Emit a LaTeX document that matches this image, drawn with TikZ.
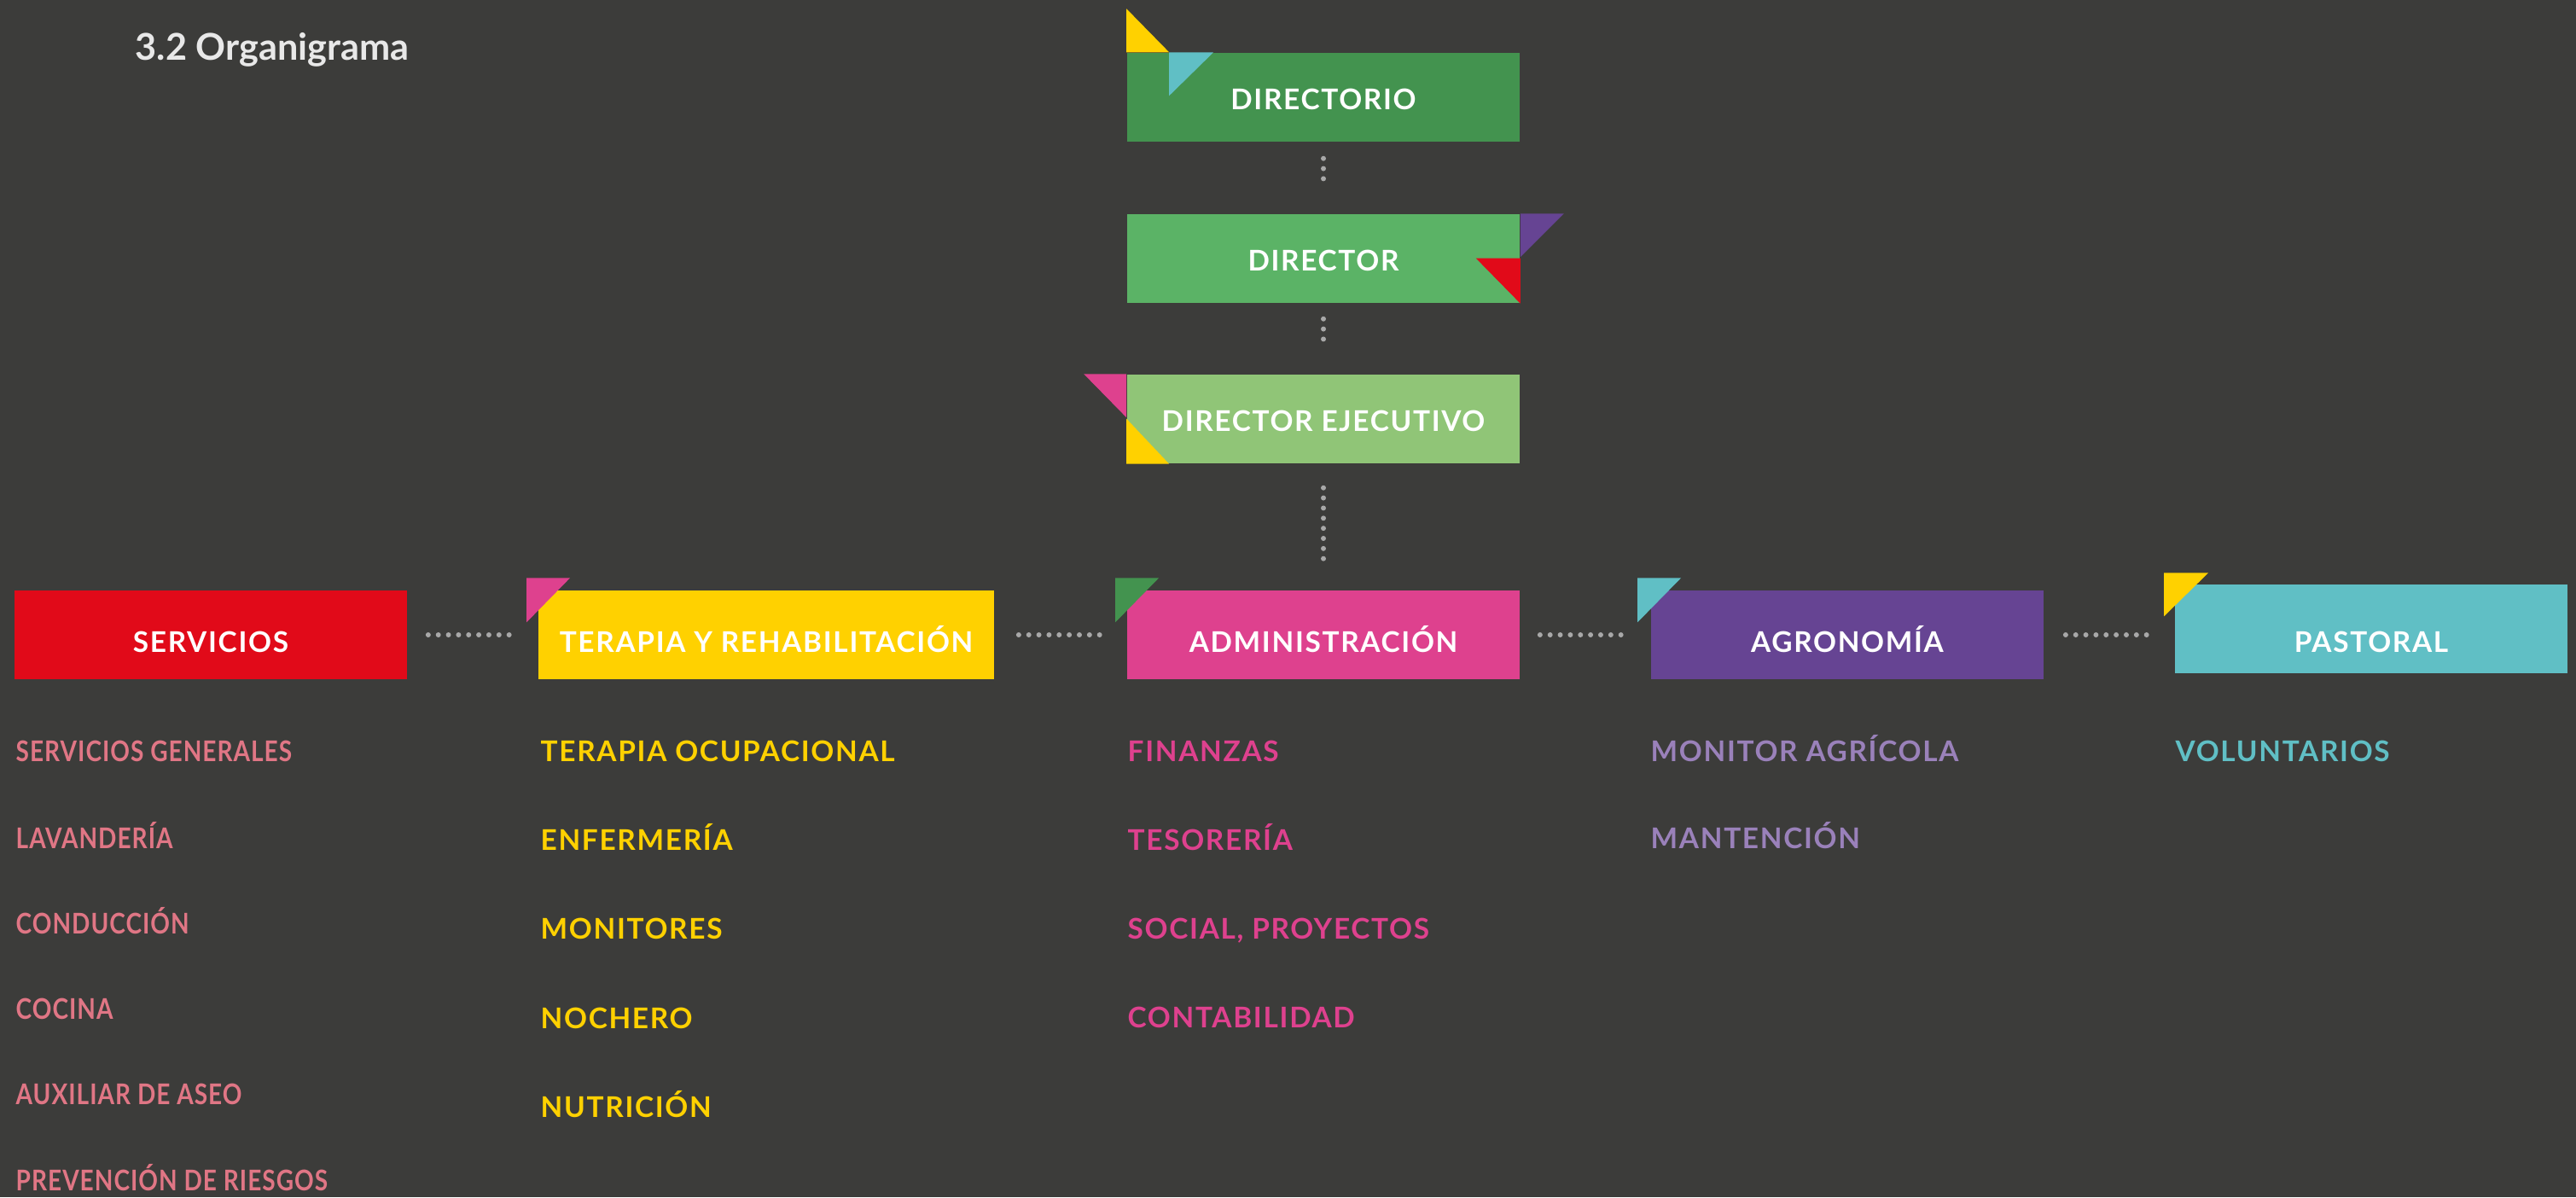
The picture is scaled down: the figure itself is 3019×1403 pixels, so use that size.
\documentclass[tikz,border=0pt]{standalone}
\usepackage{fontspec}
\setmainfont{Lato}
\newfontfamily\labelfont[LetterSpace=5]{Lato}
\newfontfamily\narrowfont[LetterSpace=3, FakeStretch=0.84, BoldFeatures={FakeStretch=0.84}]{Lato}
\usepackage{tikz}

\definecolor{bg}{HTML}{3C3C3A}
\definecolor{darkgreen}{HTML}{43934F}
\definecolor{midgreen}{HTML}{5BB366}
\definecolor{lightgreen}{HTML}{90C577}
\definecolor{orgred}{HTML}{E10A19}
\definecolor{orgyellow}{HTML}{FFD100}
\definecolor{orgpink}{HTML}{DE418E}
\definecolor{orgpurple}{HTML}{664493}
\definecolor{orgcyan}{HTML}{60BFC5}
\definecolor{salmon}{HTML}{E07685}
\definecolor{lilac}{HTML}{9A81BA}
\definecolor{dotgray}{HTML}{A8A8A8}

\tikzset{
    unit/.style={fill=#1, text=white, minimum width=4.6cm, minimum height=1.04cm,
        inner sep=0pt, text height=11.9pt, text depth=0pt,
        font=\labelfont\bfseries\fontsize{9.5}{11}\selectfont},
    topunit/.style={unit=#1, text height=8.5pt},
    subitem/.style={text=#1, anchor=base west, inner sep=0pt,
        font=\labelfont\bfseries\fontsize{9.5}{11}\selectfont},
    srvitem/.style={subitem=salmon, font=\narrowfont\bfseries\fontsize{9.5}{11}\selectfont},
    dots/.style={dotgray, line width=1.7pt, line cap=round, dash pattern=on 0pt off 3.37pt}
}

\begin{document}
\begin{tikzpicture}[x=0.01cm, y=-0.01cm]
    \useasboundingbox[fill=bg] (0, 0) rectangle (3019, 1403);

    \node[text=white!91!black, anchor=base west, inner sep=0pt,
        font=\bfseries\fontsize{12.3}{14}\selectfont] (title) at (158, 70) {3.2 Organigrama};

    % Top of the chart
    \node[topunit=darkgreen] (dirio) at (1551, 114) {DIRECTORIO};
    \node[topunit=midgreen] (dir) at (1551, 303) {DIRECTOR};
    \node[topunit=lightgreen] (eje) at (1551, 491) {DIRECTOR EJECUTIVO};

    % Areas
    \node[unit=orgred] (srv) at (247, 744) {SERVICIOS};
    \node[unit=orgyellow, minimum width=5.34cm] (ter) at (898, 744) {TERAPIA Y REHABILITACIÓN};
    \node[unit=orgpink] (adm) at (1551, 744) {ADMINISTRACIÓN};
    \node[unit=orgpurple] (agr) at (2165, 744) {AGRONOMÍA};
    \node[unit=orgcyan, text height=15.9pt] (pas) at (2779, 737) {PASTORAL};

    % Corner flags
    \fill[orgyellow] (dirio.north west) -- ++(50, 0) -- ++(-50, -51) -- cycle;
    \fill[orgcyan] (dirio.north west) ++(50, 0) -- ++(52, 0) -- ++(-52, 51) -- cycle;
    \fill[orgpurple] (dir.north east) -- ++(51, 0) -- ++(-51, 51) -- cycle;
    \fill[orgred] (dir.south east) -- ++(0, -53) -- ++(-52, 0) -- cycle;
    \fill[orgpink] (eje.north west) -- ++(-50, 0) -- ++(50, 51) -- cycle;
    \fill[orgyellow] (eje.south west) -- ++(0, -53) -- ++(50, 53) -- cycle;
    \fill[orgpink] (ter.north west) ++(-13, -14) -- ++(51, 0) -- ++(-51, 52) -- cycle;
    \fill[darkgreen] (adm.north west) ++(-13, -14) -- ++(51, 0) -- ++(-51, 52) -- cycle;
    \fill[orgcyan] (agr.north west) ++(-15, -14) -- ++(51, 0) -- ++(-51, 52) -- cycle;
    \fill[orgyellow] (pas.north west) ++(-12, -13) -- ++(52, 0) -- ++(-52, 51) -- cycle;

    % Dotted links
    \draw[dots, shorten <=19*0.01cm, shorten >=29*0.01cm] (dirio.south) -- (dir.north);
    \draw[dots, shorten <=18*0.01cm, shorten >=29*0.01cm] (dir.south) -- (eje.north);
    \draw[dots, shorten <=28*0.01cm, shorten >=25*0.01cm] (eje.south) -- (adm.north);
    \draw[dots, shorten <=24*0.01cm, shorten >=29*0.01cm] (srv.east) -- (ter.west);
    \draw[dots, shorten <=28*0.01cm, shorten >=25*0.01cm] (ter.east) -- (adm.west);
    \draw[dots, shorten <=23*0.01cm, shorten >=29*0.01cm] (adm.east) -- (agr.west);
    \draw[dots, shorten <=25*0.01cm, shorten >=27*0.01cm] (agr.east) -- (agr.east -| pas.west);

    % Servicios
    \node[srvitem] (srv1) at (18, 892) {SERVICIOS GENERALES};
    \node[srvitem] (srv2) at (18, 994) {LAVANDERÍA};
    \node[srvitem] (srv3) at (18, 1094) {CONDUCCIÓN};
    \node[srvitem] (srv4) at (18, 1194) {COCINA};
    \node[srvitem] (srv5) at (18, 1294) {AUXILIAR DE ASEO};
    \node[srvitem] (srv6) at (18, 1395) {PREVENCIÓN DE RIESGOS};

    % Terapia y rehabilitacion
    \node[subitem=orgyellow] (ter1) at (633, 892) {TERAPIA OCUPACIONAL};
    \node[subitem=orgyellow] (ter2) at (633, 996) {ENFERMERÍA};
    \node[subitem=orgyellow] (ter3) at (633, 1100) {MONITORES};
    \node[subitem=orgyellow] (ter4) at (633, 1205) {NOCHERO};
    \node[subitem=orgyellow] (ter5) at (633, 1309) {NUTRICIÓN};

    % Administracion
    \node[subitem=orgpink] (adm1) at (1321, 892) {FINANZAS};
    \node[subitem=orgpink] (adm2) at (1321, 996) {TESORERÍA};
    \node[subitem=orgpink] (adm3) at (1321, 1100) {SOCIAL, PROYECTOS};
    \node[subitem=orgpink] (adm4) at (1321, 1204) {CONTABILIDAD};

    % Agronomia
    \node[subitem=lilac] (agr1) at (1934, 892) {MONITOR AGRÍCOLA};
    \node[subitem=lilac] (agr2) at (1934, 994) {MANTENCIÓN};

    % Pastoral
    \node[subitem=orgcyan] (pas1) at (2549, 892) {VOLUNTARIOS};
\end{tikzpicture}
\end{document}
